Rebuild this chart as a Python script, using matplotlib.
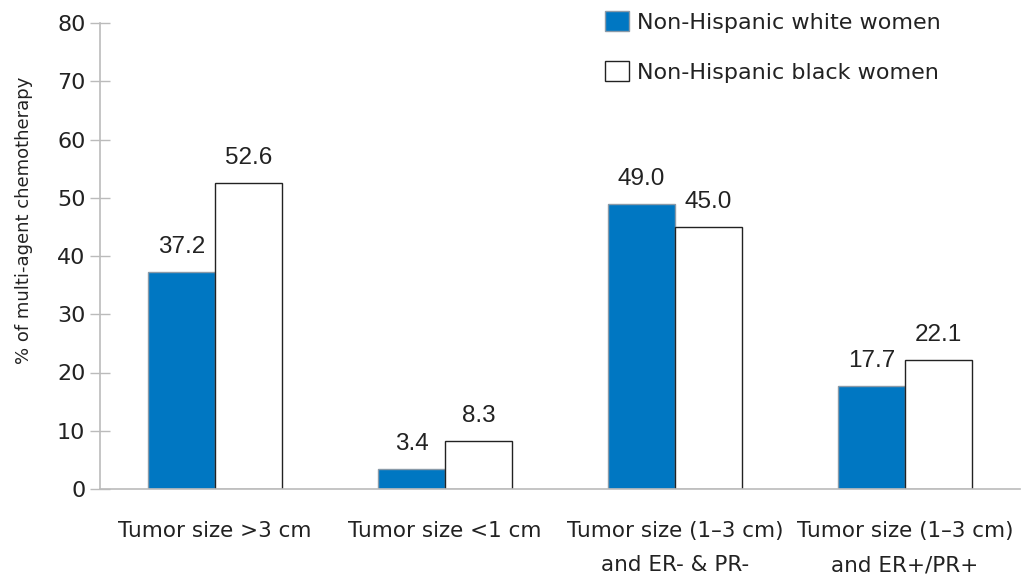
import matplotlib
matplotlib.use("Agg")
import matplotlib.pyplot as plt
import numpy as np

categories = ["Tumor size >3 cm", "Tumor size <1 cm",
              "Tumor size (1\u20133 cm)\nand ER- & PR-",
              "Tumor size (1\u20133 cm)\nand ER+/PR+"]
white_women = [37.2, 3.4, 49.0, 17.7]
black_women = [52.6, 8.3, 45.0, 22.1]
series_names = ["Non-Hispanic white women", "Non-Hispanic black women"]
yticks = [0, 10, 20, 30, 40, 50, 60, 70, 80]

plt.rcParams['font.family'] = ['DejaVu Sans']

fig = plt.figure(figsize=(10.27, 5.75), dpi=100)
ax = fig.add_axes([100/1027, 1-489/575, 920/1027, 466/575])

x = np.arange(len(categories))
w = 0.29
b1 = ax.bar(x - w/2, white_women, w, color='#0077c2', edgecolor='#8a9aa8', linewidth=1, label=series_names[0])
b2 = ax.bar(x + w/2, black_women, w, color='white', edgecolor='#222222', linewidth=1, label=series_names[1])

for bars, vals in ((b1, white_women), (b2, black_women)):
    for r, v in zip(bars, vals):
        ax.annotate(f"{v:.1f}", (r.get_x() + r.get_width()/2, v), xytext=(0, 10),
                    textcoords='offset points', ha='center', va='bottom',
                    fontsize=17.5, family=['Liberation Sans'], color='#222222')

ax.set_xlim(-0.5, 3.5)
ax.set_ylim(0, 80)
ax.set_yticks(yticks)
ax.set_xticks(x)
ax.set_xticklabels(categories, fontsize=15.5, color='#222222', linespacing=1.88, va='top')
ax.tick_params(axis='x', length=0, pad=23)
ax.tick_params(axis='y', direction='inout', length=15, width=1, color='#bbbbbb',
               labelsize=16, labelcolor='#222222', pad=3)
for s in ('top', 'right'):
    ax.spines[s].set_visible(False)
for s in ('left', 'bottom'):
    ax.spines[s].set_color('#bbbbbb')
    ax.spines[s].set_linewidth(1.2)

ax.set_ylabel("% of multi-agent chemotherapy", fontsize=13, color='#222222')
ax.yaxis.set_label_coords(-0.073, 0.577)

leg = ax.legend(loc='upper left', bbox_to_anchor=(505/920, 1.026), frameon=False,
                fontsize=16, handlelength=1.08, handleheight=1.04, handletextpad=0.38,
                labelspacing=1.26, borderaxespad=0, borderpad=0)
for t in leg.get_texts():
    t.set_color('#222222')

fig.savefig("out.png", dpi=100)
